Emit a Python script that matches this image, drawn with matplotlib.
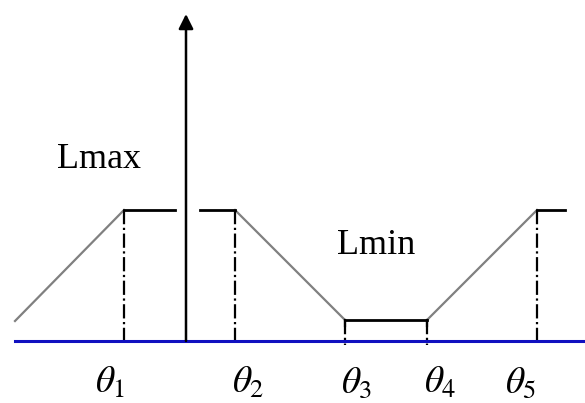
import matplotlib.pyplot as plt

plt.rcParams['mathtext.fontset'] = 'stix'

# положения theta (гориз. ось, начало координат у вертикальной стрелки)
theta_x = [-62, 49, 159, 241, 351]
theta_labels = [r'$\theta_1$', r'$\theta_2$', r'$\theta_3$', r'$\theta_4$', r'$\theta_5$']
L_max = 131
L_min = 21

# наклонные участки (серые)
slope_x = [[-171, -62], [49, 159], [241, 351]]
slope_y = [[20, L_max], [L_max, L_min], [L_min, L_max]]
# горизонтальные участки (чёрные)
flat_x = [[-62, -11], [14, 49], [159, 241], [351, 379]]
flat_y = [L_max, L_max, L_min, L_max]

fig = plt.figure(figsize=(5.85, 4.03), dpi=100)
ax = fig.add_axes([0, 0, 1, 1])
ax.set_xlim(-186, 399)
ax.set_ylim(-62, 341)
ax.axis('off')

# ось
ax.plot([-171, 399], [0, 0], color='#1010c0', lw=2.2, zorder=3)
ax.annotate('', xy=(0, 327), xytext=(0, 0),
            arrowprops=dict(arrowstyle='-|>', color='black', lw=1.8,
                            mutation_scale=22, shrinkA=0, shrinkB=0))

for xs, ys in zip(slope_x, slope_y):
    ax.plot(xs, ys, color='#808080', lw=1.6)
for xs, y in zip(flat_x, flat_y):
    ax.plot(xs, [y, y], color='black', lw=2)

# пунктирные вертикали
levels = [L_max, L_max, L_min, L_min, L_max]
for x, y in zip(theta_x, levels):
    ax.plot([x, x], [y, -4], color='black', lw=1.6, ls='-.', zorder=2)
# маленькие засечки у Lmin
for x in theta_x[2:4]:
    ax.plot([x, x], [L_min, L_min - 6], color='black', lw=1.6)

label_shift = [-14, 13, 12, 13, -16]
for x, dx, lab in zip(theta_x, label_shift, theta_labels):
    ax.text(x + dx, -42, lab, fontsize=27, ha='center', va='center')

ax.text(-87, 181, 'Lmax', fontsize=26, family='Liberation Serif',
        ha='center', va='center')
ax.text(190, 95, 'Lmin', fontsize=26, family='Liberation Serif',
        ha='center', va='center')

fig.savefig('out.png', dpi=100)
